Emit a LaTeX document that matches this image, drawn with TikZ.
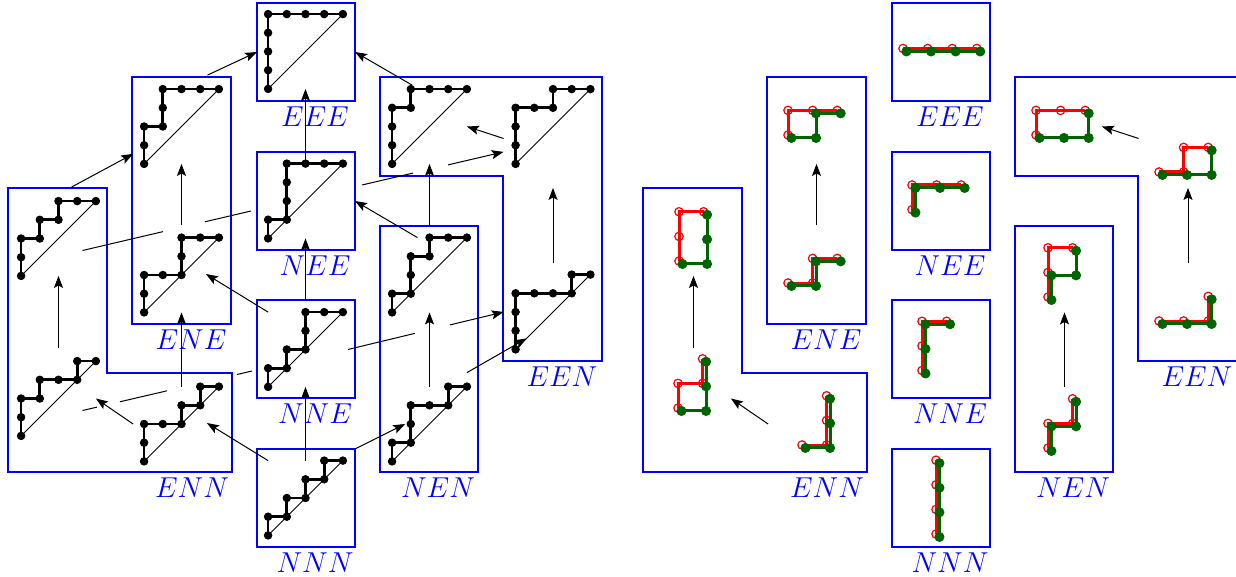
\documentclass[tikz,border=0pt]{standalone}
\usetikzlibrary{arrows.meta, plotmarks}

\definecolor{pathgreen}{RGB}{0,100,0}

% Dyck path in the cell #1, vertices #2
\newcommand{\dyck}[2]{%
  \begin{scope}[shift={(#1.south west)}, x=9.35pt, y=9.35pt]
    \draw[diag] (0,0) -- (4,4);
    \draw[dyck] plot coordinates {#2};
  \end{scope}}

% red and green path at the cell #1, moved by #2
\newcommand{\pairs}[4]{%
  \begin{scope}[shift={(#1)}, shift={#2}, x=12.3pt, y=12.3pt]
    \draw[redpath] plot coordinates {#3};
    \draw[greenpath, shift={(0.14,-0.12)}] plot coordinates {#4};
  \end{scope}}

\begin{document}
\begin{tikzpicture}[
    x=0.5pt, y=-0.5pt,
    >={Stealth[length=6pt, width=4.5pt, inset=1.2pt]},
    cell/.style={minimum size=37.4pt, inner sep=0pt, outer sep=0pt},
    classbox/.style={draw=blue, line width=1pt},
    onebox/.style={classbox, minimum size=49pt, inner sep=0pt, outer sep=0pt},
    lbl/.style={text=blue, font=\Large},
    arr/.style={->, line width=0.5pt},
    link/.style={line width=0.5pt},
    short/.style={shorten <=6.5pt},
    diag/.style={line width=0.5pt},
    dyck/.style={line width=1.35pt, mark=*, mark size=1.9pt, mark options={line width=0.4pt}},
    redpath/.style={red, line width=1.5pt, mark=o, mark size=2.1pt, mark options={line width=0.6pt}},
    greenpath/.style={pathgreen, line width=1.5pt, mark=*, mark size=2.3pt, mark options={line width=0.4pt}}
  ]
  \useasboundingbox (0,0) rectangle (1236,577);

  % cells, class boxes, labels and arrows inside a class, both halves
  \foreach \s/\dx in {l/0, r/635} {
    \node[cell] (\s-eee) at (305.5+\dx, 51.5) {};
    \node[cell] (\s-nee) at (305.5+\dx, 201) {};
    \node[cell] (\s-nne) at (305.5+\dx, 349.5) {};
    \node[cell] (\s-nnn) at (305.5+\dx, 498) {};
    \node[cell] (\s-ene1) at (181.5+\dx, 126.5) {};
    \node[cell] (\s-ene2) at (181.5+\dx, 275) {};
    \node[cell] (\s-enn1) at (58.5+\dx, 238.5) {};
    \node[cell] (\s-enn2) at (58.5+\dx, 398.5) {};
    \node[cell] (\s-enn3) at (181.5+\dx, 424) {};
    \node[cell] (\s-nen1) at (429.5+\dx, 275) {};
    \node[cell] (\s-nen2) at (429.5+\dx, 424) {};
    \node[cell] (\s-een1) at (429.5+\dx, 126.5) {};
    \node[cell] (\s-een2) at (553+\dx, 126.5) {};
    \node[cell] (\s-een3) at (553+\dx, 312) {};

    \node[onebox] (\s-EEE) at (306+\dx, 52) {};
    \node[onebox] (\s-NEE) at (306+\dx, 201) {};
    \node[onebox] (\s-NNE) at (306+\dx, 349) {};
    \node[onebox] (\s-NNN) at (306+\dx, 498) {};
    \node[classbox, minimum width=49.5pt, minimum height=123.5pt, inner sep=0pt, outer sep=0pt]
      (\s-ENE) at (181.5+\dx, 200.5) {};
    \node[classbox, minimum width=49pt, minimum height=123pt, inner sep=0pt, outer sep=0pt]
      (\s-NEN) at (429+\dx, 349) {};
    \draw[classbox] (8+\dx,188) -- (107+\dx,188) -- (107+\dx,373) -- (232+\dx,373)
      -- (232+\dx,472) -- (8+\dx,472) -- cycle;
    \draw[classbox] (380+\dx,77) -- (602+\dx,77) -- (602+\dx,361) -- (503+\dx,361)
      -- (503+\dx,176) -- (380+\dx,176) -- cycle;

    \node[lbl] (\s-EEE-lbl) at ([shift={(-40,16)}]\s-EEE.south east) {$EEE$};
    \node[lbl] (\s-NEE-lbl) at ([shift={(-40,16)}]\s-NEE.south east) {$NEE$};
    \node[lbl] (\s-NNE-lbl) at ([shift={(-40,16)}]\s-NNE.south east) {$NNE$};
    \node[lbl] (\s-NNN-lbl) at ([shift={(-40,16)}]\s-NNN.south east) {$NNN$};
    \node[lbl] (\s-ENE-lbl) at ([shift={(-40,16)}]\s-ENE.south east) {$ENE$};
    \node[lbl] (\s-NEN-lbl) at ([shift={(-40,16)}]\s-NEN.south east) {$NEN$};
    \node[lbl] (\s-ENN-lbl) at (192+\dx, 488) {$ENN$};
    \node[lbl] (\s-EEN-lbl) at (562+\dx, 377) {$EEN$};

    \draw[arr] ([shift={(-11,0)}]\s-enn3.west) -- (\s-enn2.east);
    \draw[arr, short] (\s-enn2.north) -- (\s-enn1.south);
    \draw[arr, short] (\s-ene2.north) -- (\s-ene1.south);
    \draw[arr] (\s-nen2.north) -- (\s-nen1.south);
    \draw[arr] ([shift={(-12,12)}]\s-een2.west) -- (\s-een1.east);
    \draw[arr, shorten <=6pt, shorten >=12pt] (\s-een3.north) -- (\s-een2.south);
  }

  % links between classes (left half only)
  \draw[link, dash pattern=on 41.3pt off 21.6pt on 60pt]
    ([shift={(24,12)}]l-enn1.center) -- ([shift={(-6,10)}]l-NEE.west);
  \draw[link, dash pattern=on 7.4pt off 11.8pt on 24.1pt off 36pt on 20pt]
    ([shift={(24,12)}]l-enn2.center) -- ([shift={(-5,22)}]l-NNE.west);
  \draw[arr, dash pattern=on 26.2pt off 18pt on 40pt]
    ([shift={(7,-16)}]l-NEE.east) -- ([shift={(-12,-12)}]l-een2.south west);
  \draw[arr, dash pattern=on 34.5pt off 18pt on 40pt]
    ([shift={(5,0)}]l-nne.east) -- ([shift={(-12,0)}]l-een3.west);

  \draw[arr] (l-enn3.north) -- (l-ene2.south);
  \draw[arr] ([shift={(13,-14)}]l-enn1.north) -- ([shift={(-11,-10)}]l-ene1.south west);
  \draw[arr] ([shift={(26,-14)}]l-ene1.north) -- (l-EEE.west);
  \draw[arr] (l-nnn.north west) -- ([shift={(-12,-1)}]l-enn3.east);
  \draw[arr] (l-nnn.north) -- (l-nne.south);
  \draw[arr] (l-NNN.north east) -- ([shift={(13,0)}]l-nen2.west);
  \draw[arr] (l-nne.north west) -- ([shift={(-13,-1)}]l-ene2.east);
  \draw[arr, short] (l-nne.north) -- (l-nee.south);
  \draw[arr] (l-nee.north) -- (l-eee.south);
  \draw[arr] ([shift={(-12,0)}]l-nen1.north) -- (l-NEE.east);
  \draw[arr, short] (l-nen1.north) -- (l-een1.south);
  \draw[arr] ([shift={(20,-4)}]l-een1.north west) -- (l-EEE.east);
  \draw[arr] ([shift={(0,-14)}]l-nen2.north east) -- ([shift={(11,-11)}]l-een3.south west);

  % Dyck paths
  \dyck{l-eee}{(0,0) (0,1) (0,2) (0,3) (0,4) (1,4) (2,4) (3,4) (4,4)}
  \dyck{l-nee}{(0,0) (0,1) (1,1) (1,2) (1,3) (1,4) (2,4) (3,4) (4,4)}
  \dyck{l-nne}{(0,0) (0,1) (1,1) (1,2) (2,2) (2,3) (2,4) (3,4) (4,4)}
  \dyck{l-nnn}{(0,0) (0,1) (1,1) (1,2) (2,2) (2,3) (3,3) (3,4) (4,4)}
  \dyck{l-ene1}{(0,0) (0,1) (0,2) (1,2) (1,3) (1,4) (2,4) (3,4) (4,4)}
  \dyck{l-ene2}{(0,0) (0,1) (0,2) (1,2) (2,2) (2,3) (2,4) (3,4) (4,4)}
  \dyck{l-enn1}{(0,0) (0,1) (0,2) (1,2) (1,3) (2,3) (2,4) (3,4) (4,4)}
  \dyck{l-enn2}{(0,0) (0,1) (0,2) (1,2) (1,3) (2,3) (3,3) (3,4) (4,4)}
  \dyck{l-enn3}{(0,0) (0,1) (0,2) (1,2) (2,2) (2,3) (3,3) (3,4) (4,4)}
  \dyck{l-nen1}{(0,0) (0,1) (1,1) (1,2) (1,3) (2,3) (2,4) (3,4) (4,4)}
  \dyck{l-nen2}{(0,0) (0,1) (1,1) (1,2) (1,3) (2,3) (3,3) (3,4) (4,4)}
  \dyck{l-een1}{(0,0) (0,1) (0,2) (0,3) (1,3) (1,4) (2,4) (3,4) (4,4)}
  \dyck{l-een2}{(0,0) (0,1) (0,2) (0,3) (1,3) (2,3) (2,4) (3,4) (4,4)}
  \dyck{l-een3}{(0,0) (0,1) (0,2) (0,3) (1,3) (2,3) (3,3) (3,4) (4,4)}

  % red and green paths
  \pairs{r-eee}{(-37.5,-3)}{(0,0) (1,0) (2,0) (3,0)}{(0,0) (1,0) (2,0) (3,0)}
  \pairs{r-nee}{(-28.5,8.6)}{(0,0) (0,1) (1,1) (2,1)}{(0,0) (0,1) (1,1) (2,1)}
  \pairs{r-nne}{(-18.5,21)}{(0,0) (0,1) (0,2) (1,2)}{(0,0) (0,1) (0,2) (1,2)}
  \pairs{r-nnn}{(-4.5,36)}{(0,0) (0,1) (0,2) (0,3)}{(0,0) (0,1) (0,2) (0,3)}
  \pairs{r-enn1}{(-14.5,22.5)}{(0,0) (0,1) (0,2) (1,2)}{(0,0) (1,0) (1,1) (1,2)}
  \pairs{r-enn2}{(-15.5,9.5)}{(0,0) (0,1) (1,1) (1,2)}{(0,0) (1,0) (1,1) (1,2)}
  \pairs{r-enn3}{(-14.5,21)}{(0,0) (1,0) (1,1) (1,2)}{(0,0) (1,0) (1,1) (1,2)}
  \pairs{r-ene1}{(-28.5,8.5)}{(0,0) (0,1) (1,1) (2,1)}{(0,0) (1,0) (1,1) (2,1)}
  \pairs{r-ene2}{(-28.5,8)}{(0,0) (1,0) (1,1) (2,1)}{(0,0) (1,0) (1,1) (2,1)}
  \pairs{r-een1}{(-28.5,8.5)}{(0,0) (0,1) (1,1) (2,1)}{(0,0) (1,0) (2,0) (2,1)}
  \pairs{r-een2}{(-29,45.5)}{(0,0) (1,0) (1,1) (2,1)}{(0,0) (1,0) (2,0) (2,1)}
  \pairs{r-een3}{(-29,9)}{(0,0) (1,0) (2,0) (2,1)}{(0,0) (1,0) (2,0) (2,1)}
  \pairs{r-nen1}{(-16.5,22)}{(0,0) (0,1) (0,2) (1,2)}{(0,0) (0,1) (1,1) (1,2)}
  \pairs{r-nen2}{(-16.5,24)}{(0,0) (0,1) (1,1) (1,2)}{(0,0) (0,1) (1,1) (1,2)}
\end{tikzpicture}
\end{document}
